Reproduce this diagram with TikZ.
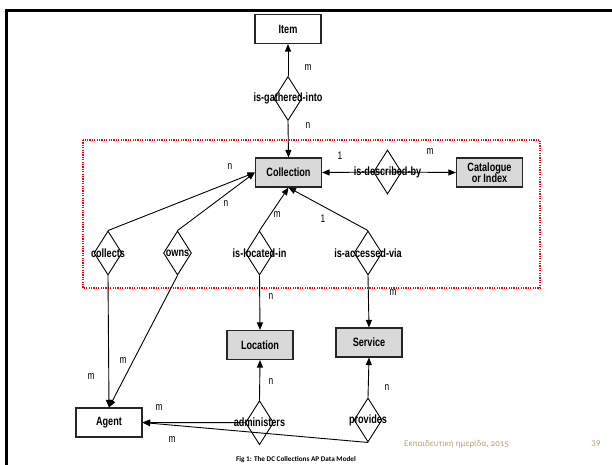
\documentclass[tikz,border=0pt]{standalone}
\usepackage{fontspec}
\setmainfont{Liberation Sans}
\newfontfamily\narfont[FakeStretch=0.76]{Liberation Sans}
\newfontfamily\calfont{Carlito}
\newfontfamily\calold[Numbers=OldStyle]{Carlito}
\usetikzlibrary{shapes.geometric,arrows.meta}
\definecolor{footc}{RGB}{185,162,120}
\definecolor{boxgray}{RGB}{217,217,217}
\begin{document}
\begin{tikzpicture}[x=1pt,y=-1pt,
  ent/.style={draw=black!85, line width=1.1pt, minimum width=66pt, minimum height=29pt, inner sep=0pt, align=center, font=\narfont\bfseries\fontsize{12}{13}\selectfont},
  gent/.style={ent, fill=boxgray},
  rel/.style={diamond, draw=black, line width=0.9pt, minimum width=28pt, minimum height=44pt, inner sep=0pt, font=\narfont\bfseries\fontsize{12}{13}\selectfont},
  card/.style={inner sep=0pt, font=\narfont\fontsize{11}{12}\selectfont},
  conn/.style={line width=0.9pt, -{Triangle[length=7.5pt,width=6pt]}},
]
\useasboundingbox (0,0) rectangle (612,464);
\fill[white] (0,0) rectangle (612,464);
% slide frame
\draw[line width=2.2pt] (6.5,470) -- (6.5,10.5) -- (620,10.5);
% red dotted group
\draw[red, line width=1.5pt, dash pattern=on 1.2pt off 1.2pt] (83,140) rectangle (540,288);

% entities
\node[ent]  (item)  at (288,29)    {Item};
\node[gent] (coll)  at (288.5,172.5) {Collection};
\node[gent] (cat)   at (489.5,172.5) {Catalogue\\[-2pt]or Index};
\node[gent] (loc)   at (260,345)   {Location};
\node[gent] (serv)  at (369,342.5) {Service};
\node[ent]  (agent) at (109,422.5) {Agent};

% relationships
\node[rel] (gath)  at (288,98.5)  {\makebox[0pt]{is-gathered-into}};
\node[rel] (desc)  at (387.5,172) {\makebox[0pt]{is-described-by}};
\node[rel] (colls) at (108,253)   {\makebox[0pt]{collects}};
\node[rel] (owns)  at (177.5,253) {\makebox[0pt]{owns}};
\node[rel] (locin) at (259.5,253) {\makebox[0pt]{is-located-in}};
\node[rel] (accv)  at (368,253)   {\makebox[0pt]{is-accessed-via}};
\node[rel] (admin) at (259.5,422.7) {\makebox[0pt]{administers}};
\node[rel] (prov)  at (368,420)   {\makebox[0pt]{provides}};

% connectors
\draw[conn] (gath.north) -- (item.south);
\draw[conn] (gath.south) -- (coll.north);
\draw[conn] (desc.center) -- (coll.east);
\draw[conn] (desc.center) -- (cat.west);
\draw[conn] (colls.north) -- (coll.west);
\draw[conn] (owns.north) -- (coll.west);
\draw[conn] (locin.north) -- (coll.south);
\draw[conn] (accv.north) -- (coll.south);
\draw[conn] (locin.south) -- (loc.north);
\draw[conn] (accv.south) -- (serv.north);
\draw[conn] (colls.south) -- (agent.north);
\draw[conn] (owns.south) -- (agent.north);
\draw[conn] (admin.north) -- (loc.south);
\draw[conn] (prov.north) -- (serv.south);
\draw[conn] (admin.west) -- (agent.east);
\draw[conn] (prov.south) -- (agent.east);

% cardinalities
\node[card] (c1)  at (308,68)  {m};
\node[card] (c2)  at (308,126) {n};
\node[card] (c3)  at (230,167) {n};
\node[card] (c4)  at (226,204) {n};
\node[card] (c5)  at (277,215) {m};
\node[card] (c6)  at (323,219) {1};
\node[card] (c7)  at (340,156) {1};
\node[card] (c8)  at (430,152) {m};
\node[card] (c9)  at (271,297) {n};
\node[card] (c10) at (393,293) {m};
\node[card] (c11) at (91,377)  {m};
\node[card] (c12) at (123,361) {m};
\node[card] (c13) at (271,382) {n};
\node[card] (c14) at (387,388) {n};
\node[card] (c15) at (159,408) {m};
\node[card] (c16) at (172,440) {m};

% footer
\node[inner sep=0pt, anchor=west, text=footc, font=\calold\fontsize{9}{10}\selectfont] (foot) at (404,444) {Εκπαιδευτική ημερίδα, 2015};
\node[inner sep=0pt, text=footc, font=\calold\fontsize{9}{10}\selectfont] (page) at (596,444) {39};
\node[inner sep=0pt, font=\calfont\bfseries\fontsize{7.2}{8}\selectfont] (cap) at (296,459.5) {Fig 1: The DC Collections AP Data Model};
\end{tikzpicture}
\end{document}
